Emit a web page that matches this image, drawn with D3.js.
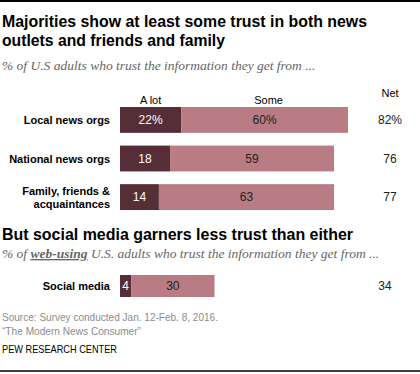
<!DOCTYPE html>
<html><head><meta charset="utf-8">
<script src="https://cdn.jsdelivr.net/npm/d3@7"></script>
<style>body{margin:0;background:#fff}svg{display:block}</style>
</head><body>
<script>
const categories = ["Local news orgs", "National news orgs", "Family, friends &\nacquaintances"];
const aLot = [22, 18, 14];
const some = [60, 59, 63];
const net = [82, 76, 77];
const socialCategories = ["Social media"];
const socialALot = [4];
const socialSome = [30];
const socialNet = [34];
const seriesLabels = ["A lot", "Some", "Net"];

const W = 420, H = 374;
const svg = d3.select("body").append("svg").attr("width", W).attr("height", H);
const dark = "#562e38", light = "#b97b84";
const sans = "'Liberation Sans', Arial, sans-serif";
const serif = "'Liberation Serif', 'DejaVu Serif', serif";

const x = d3.scaleLinear().domain([0, 100]).range([120, 398]);

svg.append("line").attr("x1",0).attr("x2",W).attr("y1",1).attr("y2",1).attr("stroke","#000").attr("stroke-width",2);
svg.append("line").attr("x1",0).attr("x2",W).attr("y1",371).attr("y2",371).attr("stroke","#000").attr("stroke-width",1.5);

function title(t, y, len){
  svg.append("text").attr("x",2).attr("y",y).text(t)
   .attr("font-family",sans).attr("font-weight","bold").attr("font-size",16).attr("fill","#000")
   .attr("textLength",len).attr("lengthAdjust","spacingAndGlyphs");
}
title("Majorities show at least some trust in both news", 27, 365);
title("outlets and friends and family", 46, 223);
svg.append("text").attr("x",2).attr("y",70).attr("font-family",serif).attr("font-style","italic")
  .attr("font-size",13.5).attr("fill","#666").text("% of U.S adults who trust the information they get from ...");

svg.append("text").attr("x",x(aLot[0]/2)).attr("y",104).attr("text-anchor","middle").attr("font-family",sans).attr("font-size",11).attr("fill","#000").text(seriesLabels[0]);
svg.append("text").attr("x",x(aLot[0]+some[0]/2)+4).attr("y",104).attr("text-anchor","middle").attr("font-family",sans).attr("font-size",11).attr("fill","#000").text(seriesLabels[1]);
svg.append("text").attr("x",390).attr("y",97).attr("text-anchor","middle").attr("font-family",sans).attr("font-size",11).attr("fill","#000").text(seriesLabels[2]);

function drawBars(cats, a, s, n, y, netX, pct){
  const g = svg.append("g");
  cats.forEach((c,i)=>{
    const y0 = y(c), h = y.bandwidth();
    g.append("rect").attr("x",x(0)).attr("y",y0).attr("width",x(a[i])-x(0)).attr("height",h).attr("fill",dark);
    g.append("rect").attr("x",x(a[i])).attr("y",y0).attr("width",x(a[i]+s[i])-x(a[i])).attr("height",h).attr("fill",light);
    const cy = y0 + h/2 + 4;
    const suf = (pct && i===0) ? "%" : "";
    g.append("text").attr("x",x(a[i]/2)).attr("y",cy).attr("text-anchor","middle").attr("font-family",sans).attr("font-size",12).attr("fill","#fff").text(a[i]+suf);
    g.append("text").attr("x",x(a[i]+s[i]/2)).attr("y",cy).attr("text-anchor","middle").attr("font-family",sans).attr("font-size",12).attr("fill","#222").text(s[i]+suf);
    g.append("text").attr("x",netX).attr("y",cy).attr("text-anchor","middle").attr("font-family",sans).attr("font-size",12).attr("fill","#222").text(n[i]+suf);
    const lines = c.split("\n");
    const t = g.append("text").attr("text-anchor","end").attr("font-family",sans).attr("font-weight","bold").attr("font-size",11).attr("fill","#000");
    lines.forEach((l,j)=>{
      t.append("tspan").attr("x",110).attr("y",cy + (j - (lines.length-1)/2)*13).text(l);
    });
  });
}
const y1 = d3.scaleBand().domain(categories).range([107, 210]).paddingInner(0.33).paddingOuter(0);
drawBars(categories, aLot, some, net, y1, 390, true);

title("But social media garners less trust than either", 240, 351);
const sub2 = svg.append("text").attr("x",2).attr("y",258).attr("font-family",serif).attr("font-style","italic").attr("font-size",13.5).attr("fill","#666");
sub2.append("tspan").text("% of ");
sub2.append("tspan").attr("font-weight","bold").attr("text-decoration","underline").text("web-using");
sub2.append("tspan").text(" U.S. adults who trust the information they get from ...");

const y2 = d3.scaleBand().domain(socialCategories).range([275, 297]);
drawBars(socialCategories, socialALot, socialSome, socialNet, y2, 385, false);

const src = svg.append("g").attr("font-family",sans).attr("font-size",11).attr("fill","#8c8c8c");
src.append("text").attr("x",2).attr("y",321).attr("textLength",216).attr("lengthAdjust","spacingAndGlyphs").text("Source: Survey conducted Jan. 12-Feb. 8, 2016.");
src.append("text").attr("x",2).attr("y",335).attr("textLength",139).attr("lengthAdjust","spacingAndGlyphs").text("\u201CThe Modern News Consumer\u201D");
svg.append("text").attr("x",2).attr("y",353).attr("font-family",sans).attr("font-size",11).attr("fill","#000")
  .attr("textLength",115).attr("lengthAdjust","spacingAndGlyphs").text("PEW RESEARCH CENTER");
</script>
</body></html>
